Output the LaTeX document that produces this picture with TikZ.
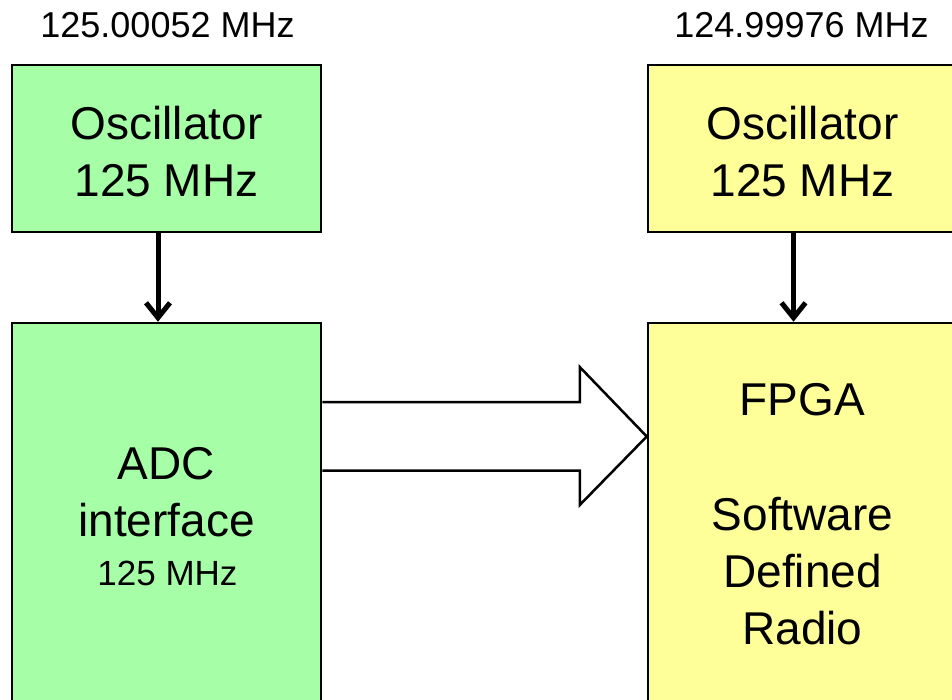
\documentclass[tikz,border=0pt]{standalone}
\usepackage{fontspec}
\setmainfont{Liberation Sans}
\usepackage{tikz}
\usetikzlibrary{arrows.meta,positioning}
\usepackage{xcolor}
\definecolor{adcside}{HTML}{A6FFA6}
\definecolor{fpgaside}{HTML}{FFFF99}

\tikzset{
  block/.style={draw,line width=2.5pt,minimum width=309pt,inner sep=0pt},
  clockline/.style={line width=5pt,-{Straight Barb[length=15pt,width=24pt]}},
  dataarrow/.style={draw,fill=white,line width=2.5pt,line join=miter},
  bigtext/.style={font=\fontsize{46}{57}\selectfont,align=center,inner sep=0pt},
}

\begin{document}
\begin{tikzpicture}[x=1pt,y=-1pt]
  \useasboundingbox (0,0) rectangle (952,699);

  % Left: ADC side
  \node[font=\fontsize{36}{43}\selectfont,anchor=base] (freqL) at (167.5,37) {125.00052 MHz};
  \node[block,fill=adcside,minimum height=167pt] (oscL) at (166.5,148.5) {};
  \node[block,fill=adcside,minimum height=437pt] (adc) at (166.5,541.5) {};
  \node[bigtext] (oscLtext) at (166.5,151.5) {Oscillator\\125 MHz};
  \node[bigtext] (adctext) at (166.5,492) {ADC\\interface};
  \node[font=\fontsize{35}{42}\selectfont,anchor=base] (adcclk) at (167.5,585) {125 MHz};

  % Right: FPGA side
  \node[font=\fontsize{36}{43}\selectfont,anchor=base] (freqR) at (801.5,37) {124.99976 MHz};
  \node[block,fill=fpgaside,minimum height=167pt] (oscR) at (802.5,148.5) {};
  \node[block,fill=fpgaside,minimum height=437pt] (fpga) at (802.5,541.5) {};
  \node[bigtext] (oscRtext) at (802.5,151.5) {Oscillator\\125 MHz};
  \node[bigtext,anchor=base] (fpgatext) at (802.5,415) {FPGA};
  \node[bigtext] (sdrtext) at (802.5,571.5) {Software\\Defined\\Radio};

  % Clocks
  \draw[clockline] ([xshift=-8.5pt]oscL.south) -- ([xshift=-8.5pt]adc.north);
  \draw[clockline] ([xshift=-9pt]oscR.south) -- ([xshift=-9pt]fpga.north);

  % Samples
  \coordinate (tail) at (adc.east |- 0,436.5);
  \coordinate (tip) at (fpga.west |- 0,436.5);
  \draw[dataarrow] ([yshift=34.5pt]tail) -- ([xshift=-67pt,yshift=34.5pt]tip)
    -- ([xshift=-67pt,yshift=69.5pt]tip) -- (tip)
    -- ([xshift=-67pt,yshift=-68.5pt]tip) -- ([xshift=-67pt,yshift=-34pt]tip)
    -- ([yshift=-34pt]tail);
\end{tikzpicture}
\end{document}
